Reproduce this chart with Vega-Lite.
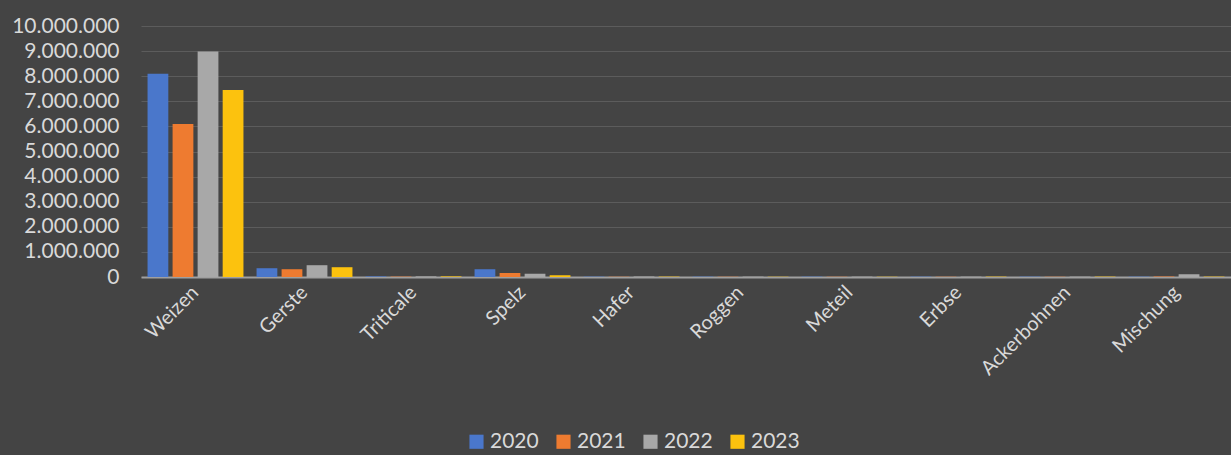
{
  "$schema": "https://vega.github.io/schema/vega-lite/v6.json",
  "autosize": {"type": "none"},
  "width": 1090,
  "height": 251,
  "padding": {"left": 141, "top": 26, "right": 0, "bottom": 178},
  "background": "#444444",
  "config": {
    "locale": {"number": {"decimal": ",", "thousands": ".", "grouping": [3], "currency": ["", " €"]}},
    "view": {"stroke": null},
    "font": "Lato"
  },
  "data": {
    "values": [
      {"kultur": "Weizen", "jahr": "2020", "wert": 8100000},
      {"kultur": "Weizen", "jahr": "2021", "wert": 6100000},
      {"kultur": "Weizen", "jahr": "2022", "wert": 8980000},
      {"kultur": "Weizen", "jahr": "2023", "wert": 7450000},
      {"kultur": "Gerste", "jahr": "2020", "wert": 350000},
      {"kultur": "Gerste", "jahr": "2021", "wert": 310000},
      {"kultur": "Gerste", "jahr": "2022", "wert": 470000},
      {"kultur": "Gerste", "jahr": "2023", "wert": 390000},
      {"kultur": "Triticale", "jahr": "2020", "wert": 25000},
      {"kultur": "Triticale", "jahr": "2021", "wert": 15000},
      {"kultur": "Triticale", "jahr": "2022", "wert": 25000},
      {"kultur": "Triticale", "jahr": "2023", "wert": 25000},
      {"kultur": "Spelz", "jahr": "2020", "wert": 310000},
      {"kultur": "Spelz", "jahr": "2021", "wert": 160000},
      {"kultur": "Spelz", "jahr": "2022", "wert": 130000},
      {"kultur": "Spelz", "jahr": "2023", "wert": 70000},
      {"kultur": "Hafer", "jahr": "2020", "wert": 15000},
      {"kultur": "Hafer", "jahr": "2021", "wert": 10000},
      {"kultur": "Hafer", "jahr": "2022", "wert": 15000},
      {"kultur": "Hafer", "jahr": "2023", "wert": 15000},
      {"kultur": "Roggen", "jahr": "2020", "wert": 15000},
      {"kultur": "Roggen", "jahr": "2021", "wert": 10000},
      {"kultur": "Roggen", "jahr": "2022", "wert": 15000},
      {"kultur": "Roggen", "jahr": "2023", "wert": 10000},
      {"kultur": "Meteil", "jahr": "2020", "wert": 15000},
      {"kultur": "Meteil", "jahr": "2021", "wert": 10000},
      {"kultur": "Meteil", "jahr": "2022", "wert": 15000},
      {"kultur": "Meteil", "jahr": "2023", "wert": 10000},
      {"kultur": "Erbse", "jahr": "2020", "wert": 15000},
      {"kultur": "Erbse", "jahr": "2021", "wert": 10000},
      {"kultur": "Erbse", "jahr": "2022", "wert": 15000},
      {"kultur": "Erbse", "jahr": "2023", "wert": 15000},
      {"kultur": "Ackerbohnen", "jahr": "2020", "wert": 15000},
      {"kultur": "Ackerbohnen", "jahr": "2021", "wert": 10000},
      {"kultur": "Ackerbohnen", "jahr": "2022", "wert": 15000},
      {"kultur": "Ackerbohnen", "jahr": "2023", "wert": 15000},
      {"kultur": "Mischung", "jahr": "2020", "wert": 15000},
      {"kultur": "Mischung", "jahr": "2021", "wert": 15000},
      {"kultur": "Mischung", "jahr": "2022", "wert": 110000},
      {"kultur": "Mischung", "jahr": "2023", "wert": 15000}
    ]
  },
  "mark": {"type": "bar"},
  "encoding": {
    "x": {
      "field": "kultur",
      "type": "nominal",
      "sort": null,
      "scale": {"paddingInner": 0.12, "paddingOuter": 0.06},
      "axis": {
        "title": null,
        "labelAngle": -45,
        "labelAlign": "right",
        "labelBaseline": "middle",
        "labelFontSize": 20,
        "labelColor": "#d9d9d9",
        "labelPadding": 12,
        "labelOverlap": false,
        "ticks": false,
        "domainColor": "#a0a0a0",
        "domainWidth": 2,
        "grid": false
      }
    },
    "xOffset": {"field": "jahr", "type": "nominal", "scale": {"paddingInner": 0.17}},
    "y": {
      "field": "wert",
      "type": "quantitative",
      "scale": {"domain": [0, 10000000]},
      "axis": {
        "title": null,
        "format": ",d",
        "values": [0, 1000000, 2000000, 3000000, 4000000, 5000000, 6000000, 7000000, 8000000, 9000000, 10000000],
        "labelOverlap": false,
        "labelFontSize": 21,
        "labelColor": "#d9d9d9",
        "labelPadding": 22,
        "domain": false,
        "ticks": false,
        "gridColor": "#5c5c5c",
        "gridWidth": 1
      }
    },
    "color": {
      "field": "jahr",
      "type": "nominal",
      "scale": {"domain": ["2020", "2021", "2022", "2023"], "range": ["#4a77cb", "#ee7b30", "#a8a8a8", "#fcc20e"]},
      "legend": {
        "title": null,
        "orient": "none",
        "direction": "horizontal",
        "legendX": 325,
        "legendY": 405,
        "symbolType": "square",
        "symbolSize": 200,
        "symbolStrokeWidth": 0,
        "labelFontSize": 21,
        "labelColor": "#d9d9d9",
        "labelOffset": 3,
        "columnPadding": 14
      }
    }
  }
}
